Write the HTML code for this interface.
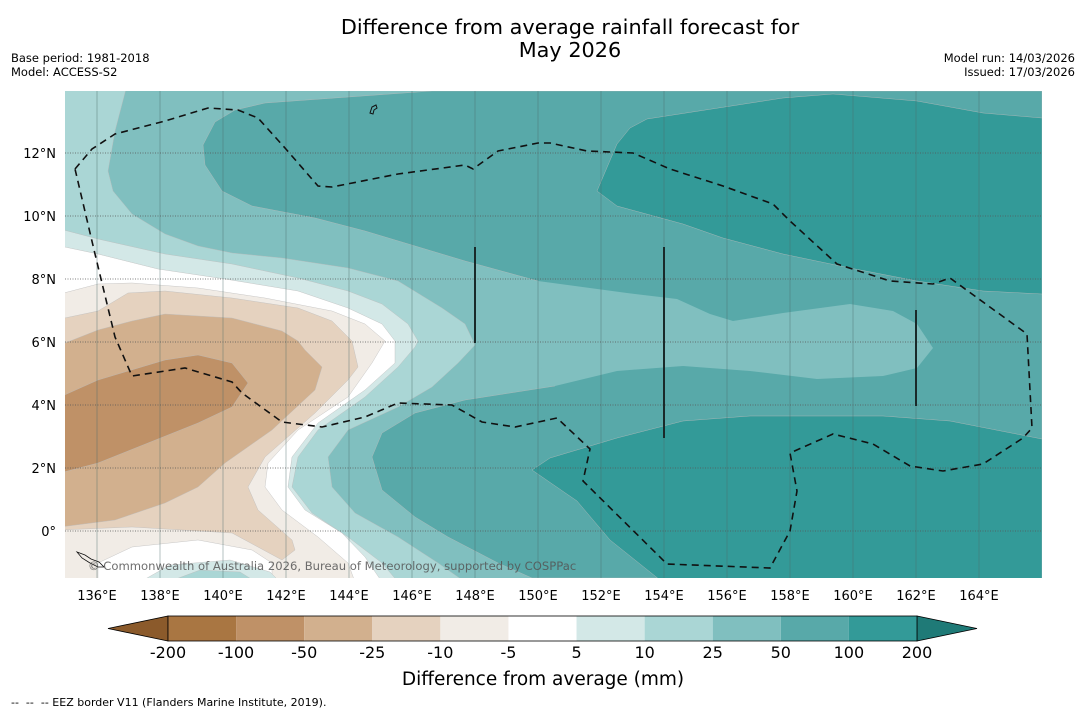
<!DOCTYPE html>
<html><head><meta charset="utf-8"><style>
body{margin:0;background:#fff;width:1085px;height:713px;overflow:hidden;font-family:"Liberation Sans","DejaVu Sans",sans-serif}
svg{position:absolute;left:0;top:0}
</style></head><body>
<svg id="s" width="1085" height="713" font-family="DejaVu Sans, Liberation Sans, sans-serif">
<text x="570" y="34" font-size="20.8" text-anchor="middle">Difference from average rainfall forecast for</text>
<text x="570" y="57" font-size="20.8" text-anchor="middle">May 2026</text>
<text x="11" y="62" font-size="11.5">Base period: 1981-2018</text>
<text x="11" y="76" font-size="11.5">Model: ACCESS-S2</text>
<text x="1075" y="62" font-size="11.5" text-anchor="end">Model run: 14/03/2026</text>
<text x="1075" y="76" font-size="11.5" text-anchor="end">Issued: 17/03/2026</text>
<defs><clipPath id="mc"><rect x="65" y="91" width="977" height="487"/></clipPath></defs>
<g id="map" clip-path="url(#mc)"></g>
<g id="ax"></g>
<g id="cb"></g>
<text x="543" y="685" font-size="18.5" text-anchor="middle">Difference from average (mm)</text>
<text x="11" y="706" font-size="11" xml:space="preserve" style="white-space:pre">--  --  -- EEZ border V11 (Flanders Marine Institute, 2019).</text>
</svg>
<script>
const NS="http://www.w3.org/2000/svg";
const colorLevels=["-200","-100","-50","-25","-10","-5","5","10","25","50","100","200"];
const colorFills=["#a97642","#bf9167","#d2b08e","#e5d2bf","#f1ece6","#ffffff","#d3e8e7","#aad6d5","#80bfbf","#58a9a9","#339a98"];
const latTicks=[0,2,4,6,8,10,12];
const lonTicks=[136,138,140,142,144,146,148,150,152,154,156,158,160,162,164];
const X=lon=>65.5+(lon-135)*31.5, Y=lat=>531-lat*31.5;
function el(t,a,p){const e=document.createElementNS(NS,t);for(const k in a)e.setAttribute(k,a[k]);p.appendChild(e);return e;}
const map=document.getElementById('map');
const shapes=[
["#80bfbf","0,0 1085,0 1085,713 0,713",0],
["#58a9a9","265,103 432,91 1042,91 1042,578 532,578 498,563 448,537 415,517 382,490 372,457 382,433 415,413 465,400 555,386 540,330 538,281 465,261 415,246 365,231 315,218 252,206 222,191 205,165 203,145 215,122 235,110",1],
["#80bfbf","538,281 627,293 677,299 710,314 733,321 783,313 850,304 893,311 917,324 933,348 917,368 883,376 817,379 750,371 683,366 617,371 555,386 520,340",0],
["#339a98","630,128 647,119 783,98 833,94 917,101 983,113 1042,118 1042,294 983,291 917,281 850,268 783,254 723,238 683,224 617,206 597,191 617,144",1],
["#339a98","532,470 550,458 617,438 683,421 750,416 883,416 950,421 1042,439 1042,580 660,580 610,540 577,501",1],
["#aad6d5","60,85 127,85 115,131 108,171 113,191 132,214 165,234 198,246 232,253 282,258 348,268 398,281 442,308 465,324 475,345 458,363 432,387 398,407 348,430 328,457 332,487 355,513 398,537 438,563 465,582 60,582",1],
["#d3e8e7","60,229 98,239 165,254 232,264 298,278 348,291 382,304 408,324 418,341 415,347 398,367 365,397 318,430 298,457 292,487 312,513 348,537 382,563 398,582 60,582",1],
["#ffffff","60,246 98,254 158,269 225,279 298,291 348,308 382,324 395,341 395,363 365,390 318,423 292,457 288,487 305,510 342,533 365,557 382,582 60,582",1],
["#f1ece6","60,294 98,284 132,283 198,288 265,298 332,311 365,324 385,341 372,363 348,397 298,430 268,463 265,487 282,510 318,537 348,563 355,582 60,582",1],
["#ffffff","98,582 98,563 132,547 198,540 252,550 272,563 272,582",1],
["#d3e8e7","140,582 170,565 230,560 270,572 280,582",1],
["#aad6d5","168,582 200,570 240,572 256,582",1],
["#e5d2bf","60,319 98,311 128,293 165,291 232,298 298,308 332,321 352,341 358,367 348,380 315,413 265,457 248,487 258,510 292,540 295,550 282,560 232,533 132,527 60,530",1],
["#d2b08e","60,345 98,330 132,321 165,314 232,318 282,331 298,341 305,350 322,367 315,390 272,430 225,463 198,487 165,503 115,520 60,527",1],
["#bf9167","60,397 98,380 165,360 198,355 232,363 248,383 232,407 198,423 148,443 98,463 60,473",1]
];
shapes.forEach(s=>{const p=el('polygon',{points:s[1],fill:s[0],stroke:s[2]?'#bbb':'none','stroke-width':0.4},map);

});
lonTicks.forEach(l=>{const g=el('line',{x1:X(l),x2:X(l),y1:91,y2:578,stroke:'#4a6b6b','stroke-width':0.6,'stroke-opacity':0.7},map);

});
latTicks.forEach(l=>{const g=el('line',{x1:65,x2:1042,y1:Y(l),y2:Y(l),stroke:'#555','stroke-width':0.8,'stroke-dasharray':'1,1.5'},map);

});
const eez="75,169 92,149 115,134 165,121 208,108 238,110 258,118 285,148 318,186 332,187 398,174 465,165 473,169 498,151 538,143 550,143 587,151 633,153 670,169 723,186 773,204 790,221 837,264 890,281 933,284 950,278 1027,334 1032,428 1023,438 983,464 943,471 910,466 873,444 833,434 790,453 797,491 790,531 770,568 667,564 583,481 590,449 557,418 515,427 482,422 452,405 398,403 365,417 322,427 282,422 242,393 232,382 185,368 132,376 115,337 95,254 75,169";
const e=el('polyline',{points:eez,fill:'none',stroke:'#111','stroke-width':1.6,'stroke-dasharray':'7,5'},map);


[[475,247,343],[664,247,438],[916,310,406]].forEach(v=>{const l=el('line',{x1:v[0],x2:v[0],y1:v[1],y2:v[2],stroke:'#1a2a2a','stroke-width':2},map);

});
const isl=el('path',{d:'M370,113 l2,-6 l4,-2 l1,3 l-3,2 l-1,4z',fill:'none',stroke:'#111','stroke-width':1},map);


const sol=el('path',{d:'M77,552 l8,3 l6,4 l8,3 l5,5 l-6,0 l-8,-4 l-8,-5z',fill:'none',stroke:'#111','stroke-width':0.8},map);


const cp=el('text',{x:88,y:570,'font-size':11.6,fill:'#555','fill-opacity':0.85},map);cp.textContent='© Commonwealth of Australia 2026, Bureau of Meteorology, supported by COSPPac';


const ax=document.getElementById('ax');
latTicks.forEach(l=>{const t=el('text',{x:56,y:Y(l)+5,'font-size':13,'text-anchor':'end'},ax);t.textContent=l===0?'0°':l+'°N';

});
lonTicks.forEach(l=>{const t=el('text',{x:X(l),y:600,'font-size':13,'text-anchor':'middle'},ax);t.textContent=l+'°E';

});
const cb=document.getElementById('cb');const x0=168,x1=917,w=(x1-x0)/11,y0=616,h=25;
const la=el('polygon',{points:`${x0},${y0} ${x0},${y0+h} 108,${y0+h/2}`,fill:'#8b5a2b',stroke:'#000','stroke-width':0.8},cb);


const ra=el('polygon',{points:`${x1},${y0} ${x1},${y0+h} 977,${y0+h/2}`,fill:'#1f7a77',stroke:'#000','stroke-width':0.8},cb);


colorFills.forEach((c,i)=>{const r=el('rect',{x:x0+i*w,y:y0,width:w,height:h,fill:c},cb);

});
el('rect',{x:x0,y:y0,width:x1-x0,height:h,fill:'none',stroke:'#000','stroke-width':0.8},cb);
colorLevels.forEach((v,i)=>{const t=el('text',{x:x0+i*w,y:658,'font-size':16,'text-anchor':'middle'},cb);t.textContent=v;

});
</script>
</body></html>
